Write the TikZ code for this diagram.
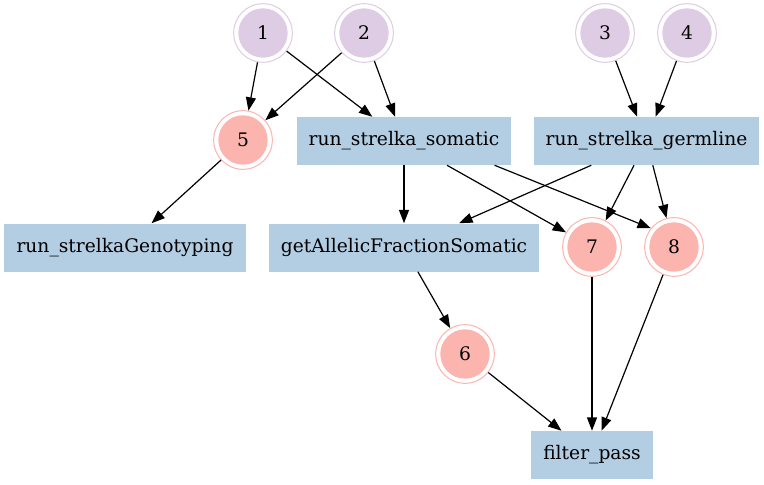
\documentclass[tikz,border=0pt]{standalone}
\usepackage{fontspec}
\setmainfont{DejaVu Serif}
\usetikzlibrary{arrows.meta}
\definecolor{lav}{HTML}{DECBE4}
\definecolor{salmon}{HTML}{FBB4AE}
\definecolor{jobblue}{HTML}{B3CDE3}
\begin{document}
\begin{tikzpicture}[x=0.75pt,y=-0.75pt,
  font=\fontsize{14}{16}\selectfont,
  ring/.style={circle,draw=#1,line width=0.75pt,fill=white,minimum size=44pt,inner sep=0pt,
    path picture={\fill[#1] (path picture bounding box.center) circle (18.5pt);}},
  job/.style={rectangle,fill=jobblue,minimum height=36pt,inner sep=0pt},
  edge/.style={-{Triangle[length=10pt,width=7.5pt]},line width=0.9pt}]
\useasboundingbox (0,0) rectangle (764,485);
\node[ring=lav] (in_1) at (263,33) {1};
\node[ring=lav] (in_2) at (364,33) {2};
\node[ring=lav] (in_3) at (605,33) {3};
\node[ring=lav] (in_4) at (687,33) {4};
\node[ring=salmon] (out_5) at (243,140) {5};
\node[job,minimum width=160.5pt] (job_somatic) at (404,141) {run\_strelka\_somatic};
\node[job,minimum width=168.75pt] (job_germline) at (646.5,141) {run\_strelka\_germline};
\node[job,minimum width=181.5pt] (job_genotyping) at (125,247.5) {run\_strelkaGenotyping};
\node[job,minimum width=202.5pt] (job_allelic) at (404,247.5) {getAllelicFractionSomatic};
\node[ring=salmon] (out_7) at (592,247) {7};
\node[ring=salmon] (out_8) at (674,247) {8};
\node[ring=salmon] (out_6) at (465,354) {6};
\node[job,minimum width=92pt] (job_filter) at (592,455) {filter\_pass};
\draw[edge] (in_1) -- (out_5);
\draw[edge] (in_1) -- (job_somatic);
\draw[edge] (in_2) -- (out_5);
\draw[edge] (in_2) -- (job_somatic);
\draw[edge] (in_3) -- (job_germline);
\draw[edge] (in_4) -- (job_germline);
\draw[edge] (out_5) -- (job_genotyping);
\draw[edge] (job_somatic) -- (job_allelic);
\draw[edge] (job_somatic) -- (out_7);
\draw[edge] (job_somatic.-15) -- (out_8.141);
\draw[edge] (job_germline) -- (job_allelic);
\draw[edge] (job_germline) -- (out_7);
\draw[edge] (job_germline) -- (out_8);
\draw[edge] (job_allelic) -- (out_6);
\draw[edge] (out_6) -- (job_filter);
\draw[edge] (out_7) -- (job_filter);
\draw[edge] (out_8) -- (job_filter);
\end{tikzpicture}
\end{document}
